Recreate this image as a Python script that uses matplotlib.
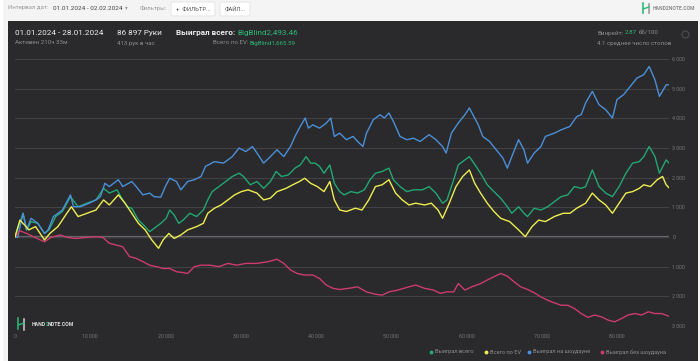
import matplotlib
matplotlib.use('Agg')
import matplotlib.pyplot as plt
from matplotlib.patches import Rectangle, FancyBboxPatch
from matplotlib.lines import Line2D

plt.rcParams['font.family'] = ['Roboto', 'DejaVu Sans']

# ---------------- data (hands, BB) ----------------
blue_x = [0, 360, 1070, 1540, 2140, 3030, 3920, 4400, 5110, 6300, 7370, 7780, 8680, 9860, 10760, 11350,
          11940, 12540, 13730, 14320, 15510, 16100, 16990, 17890, 18480, 19370, 19970, 20560, 21450,
          22040, 22940, 23830, 24720, 25310, 26500, 27690, 28880, 29770, 30660, 31550, 32150, 33040,
          33930, 34820, 35710, 36600, 37200, 37910, 38560, 38980, 39570, 40470, 41360, 41950, 42430,
          43140, 44030, 44920, 45520, 46230, 46700, 47600, 48490, 49080, 49680, 50270, 51160, 52050,
          52940, 53840, 55020, 55920, 56810, 57280, 57990, 58890, 59780, 60370, 60970, 61560, 62150,
          63050, 63940, 64830, 65420, 66010, 66910, 67620, 68100, 68990, 69880, 70470, 71660, 72550,
          73740, 74630, 75230, 75820, 76710, 77600, 78490, 79380, 79980, 80870, 81760, 82650, 83540,
          84260, 85030, 85620, 86520, 86897]
blue_y = [0, -10, 800, 240, 630, 460, 120, 240, 690, 910, 1420, 1020, 1020, 1140, 1250, 1360,
          1810, 1700, 1930, 1700, 1870, 1700, 1420, 1480, 1360, 1340, 1700, 1980, 1870,
          1590, 1870, 1930, 2040, 2380, 2540, 2490, 2710, 3000, 2880, 3050, 2830, 2490,
          2710, 2940, 2710, 3050, 3390, 3730, 4010, 3670, 3780, 3670, 3840, 4010, 3390,
          3500, 3280, 3390, 3220, 3050, 3500, 3950, 4120, 4010, 4180, 3900, 3390, 3280,
          3330, 3220, 3450, 3280, 3050, 2830, 3500, 3840, 4120, 4350, 4060, 3780, 3390,
          3220, 2940, 2660, 2320, 2710, 3280, 2940, 2490, 2830, 3050, 3390, 3500, 3610,
          3730, 4060, 4120, 4520, 4910, 4460, 4290, 4010, 4630, 4800, 5080, 5360, 5470,
          5750, 5300, 4740, 5130, 5130]

pink_x = [0, 650, 1540, 2440, 3920, 4810, 6000, 6890, 8080, 9570, 10760, 11650, 12540, 13430, 14320,
          15210, 16100, 16990, 17890, 18780, 19670, 20560, 21450, 22340, 22940, 23830, 24720, 25910,
          27100, 28280, 29470, 30660, 32150, 33630, 34820, 35710, 36600, 37490, 38390, 39570, 40470,
          41360, 42250, 43140, 44330, 45520, 46700, 47890, 48790, 49680, 50860, 52050, 53240, 54430,
          55620, 56510, 57400, 58290, 58890, 59780, 60670, 61860, 62750, 63640, 64530, 65420, 66310,
          67200, 68100, 68990, 69880, 70770, 71660, 72550, 73440, 74330, 75230, 76120, 77010, 77900,
          78790, 79680, 80570, 81460, 82360, 83250, 84140, 85030, 85920, 86897]
pink_y = [0, 210, 120, 10, -160, -10, 70, -10, -50, -10, 10, -10, -210, -270, -330,
          -660, -720, -830, -950, -1000, -1060, -1060, -1170, -1200, -1230, -1000, -950, -950,
          -1000, -890, -950, -890, -890, -830, -750, -890, -1110, -1230, -1280, -1280, -1400,
          -1620, -1730, -1770, -1730, -1680, -1850, -1930, -1960, -1850, -1790, -1700, -1620, -1730,
          -1790, -1900, -1850, -1850, -1570, -1790, -1680, -1570, -1450, -1340, -1230, -1320, -1510,
          -1680, -1770, -1880, -2020, -2130, -2220, -2300, -2300, -2410, -2580, -2710, -2630, -2690,
          -2800, -2860, -2750, -2630, -2580, -2630, -2520, -2580, -2580, -2670]

green_x = [0, 1070, 1540, 2140, 3030, 3920, 4520, 5410, 6300, 7370, 8380, 9570, 10760, 11770, 12540,
           13550, 14320, 14910, 15510, 16400, 17290, 17890, 18480, 19370, 20080, 20560, 21150, 21750,
           22340, 23230, 24130, 25020, 25610, 26200, 27100, 27990, 28880, 29770, 30360, 31260, 32150,
           33040, 33930, 34700, 35410, 36310, 37200, 37910, 38680, 39280, 39870, 40470, 41060, 41830,
           42430, 43140, 43730, 44630, 45520, 46410, 47180, 47890, 48790, 49680, 50270, 51160, 52050,
           52940, 54130, 55020, 55920, 56810, 57400, 58290, 58890, 59780, 60370, 60970, 61860, 62750,
           63640, 64530, 65420, 66010, 66910, 67620, 68100, 68990, 69880, 70770, 71660, 72550, 73440,
           74330, 75230, 75820, 76710, 77600, 78490, 79380, 80270, 81170, 82060, 82950, 83540, 84260,
           85030, 85620, 86520, 86897]
green_y = [0, 800, 240, 520, 460, 120, 240, 690, 860, 1360, 1020, 1140, 1250, 1640, 1480,
           1590, 1250, 1020, 970, 570, 350, 180, 290, 460, 630, 910, 740, 460,
           570, 800, 690, 910, 1250, 1530, 1700, 1870, 2040, 2150, 2040, 1760, 1870,
           1640, 1870, 2210, 2040, 2090, 2320, 2430, 2710, 2490, 2490, 2380, 2150, 2430,
           1810, 1530, 1420, 1530, 1480, 1590, 1930, 2150, 2210, 2320, 1930, 1700, 1530,
           1590, 1590, 1700, 1480, 1140, 1250, 1930, 2430, 2600, 2710, 2490, 2150, 1760,
           1530, 1310, 1020, 800, 1020, 800, 690, 970, 910, 1020, 1190, 1360, 1420,
           1700, 1640, 1700, 2260, 1700, 1480, 1360, 1700, 2150, 2490, 2540, 2710, 3050,
           2710, 2150, 2600, 2490]

yellow_x = [0, 650, 1250, 1840, 2730, 3920, 4630, 5700, 6890, 7490, 8380, 9570, 10760, 11770, 12540,
            13730, 14620, 15510, 16400, 17290, 18180, 19070, 19670, 20440, 21150, 22040, 22940, 24130,
            25020, 25610, 26500, 27390, 28280, 29180, 30070, 30960, 32150, 33040, 33930, 34820, 36010,
            36900, 37790, 38500, 39280, 40170, 41060, 41830, 42430, 43140, 44030, 45220, 46110, 47000,
            47890, 48790, 49680, 50570, 51460, 52350, 53240, 54430, 55320, 56210, 56810, 57700, 58590,
            59480, 60370, 61080, 61860, 62750, 63640, 64530, 65720, 66910, 67800, 68690, 69580, 70470,
            71660, 72850, 73740, 74630, 75820, 76710, 77600, 78490, 79380, 80270, 81170, 82060, 82950,
            83540, 84430, 85330, 86040, 86520, 86897]
yellow_y = [0, 570, 410, 240, 350, -100, 120, 350, 800, 1020, 690, 800, 910, 1250, 1080,
            1420, 1140, 800, 460, 240, -100, -380, -100, 120, -50, 70, 240, 350,
            460, 800, 970, 1080, 1250, 1420, 1530, 1590, 1480, 1250, 1310, 1530, 1640,
            1760, 1870, 1980, 1810, 1700, 1530, 1870, 1250, 910, 860, 970, 910, 1250,
            1700, 1760, 1930, 1480, 1250, 1080, 1140, 1080, 1140, 910, 630, 1140, 1700,
            2040, 2260, 1810, 1480, 1140, 860, 630, 520, 240, 10, 350, 570, 520,
            690, 800, 800, 970, 1140, 1480, 1250, 1080, 800, 1140, 1480, 1530, 1640,
            1760, 1700, 1930, 2040, 1760, 1660]

x_ticks = [0, 10000, 20000, 30000, 40000, 50000, 60000, 70000, 80000]
x_tick_labels = ['0', '10 000', '20 000', '30 000', '40 000', '50 000', '60 000', '70 000', '80 000']
y_ticks = [-3000, -2000, -1000, 0, 1000, 2000, 3000, 4000, 5000, 6000]
y_tick_labels = ['3 000', '2 000', '1 000', '0', '1 000', '2 000', '3 000', '4 000', '5 000', '6 000']

series_names = ['Выиграл всего', 'Всего по EV', 'Выиграл на шоудауне', 'Выиграл без шоудауна']
C_GREEN = '#22a872'
C_YELLOW = '#eeee50'
C_BLUE = '#4a90d8'
C_PINK = '#cc3c6c'
series_colors = [C_GREEN, C_YELLOW, C_BLUE, C_PINK]

# ---------------- figure ----------------
W, H = 700, 361
fig = plt.figure(figsize=(7, 3.61), dpi=100)
fig.patch.set_facecolor('#f4f4f4')
renderer = fig.canvas.get_renderer()

def fx(x):
    return x / W

def fy(y):
    return 1 - y / H

PANEL = '#2a292c'
fig.add_artist(Rectangle((fx(8), 0), fx(698) - fx(8), fy(21), transform=fig.transFigure,
                         facecolor=PANEL, edgecolor='none', zorder=0))
fig.add_artist(Rectangle((0, 0), fx(3), 1, transform=fig.transFigure,
                         facecolor='#ffffff', edgecolor='none', zorder=0))

ax = fig.add_axes([fx(15), fy(326), fx(669) - fx(15), fy(59) - fy(326)])
ax.set_facecolor('none')
ax.set_xlim(0, 86897)
ax.set_ylim(-3000, 6000)
for s in ax.spines.values():
    s.set_visible(False)
ax.set_xticks(x_ticks)
ax.set_xticklabels(x_tick_labels)
ax.set_yticks(y_ticks)
ax.set_yticklabels(y_tick_labels)
ax.yaxis.tick_right()
ax.tick_params(axis='both', length=0, labelsize=3.8, labelcolor='#77767a')
ax.tick_params(axis='x', pad=6)
ax.tick_params(axis='y', pad=2.5)
for lbl in ax.get_yticklabels():
    lbl.set_horizontalalignment('left')
ax.grid(axis='y', color='#424145', lw=0.8)
ax.grid(axis='x', visible=False)
ax.axhline(0, color='#68676b', lw=1.6, zorder=1)

ax.plot(green_x, green_y, color=C_GREEN, lw=1.0, zorder=3)
ax.plot(yellow_x, yellow_y, color=C_YELLOW, lw=1.0, zorder=4)
ax.plot(blue_x, blue_y, color=C_BLUE, lw=1.0, zorder=3)
ax.plot(pink_x, pink_y, color=C_PINK, lw=1.0, zorder=3)

# ---------------- texts ----------------
def t(x, y, s, size, color, weight='normal', ha='left', **kw):
    return fig.text(fx(x), fy(y), s, fontsize=size, color=color, fontweight=weight,
                    ha=ha, va='center', **kw)

def width_px(txt):
    return txt.get_window_extent(renderer=renderer).width

def chain(x, y, parts, size, gap=2.0, **kw):
    """parts: list of (string, color, weight); placed left to right."""
    for s, c, w in parts:
        tx = t(x, y, s, size, c, weight=w, **kw)
        x += width_px(tx) + gap
    return x

def chain_right(x, y, parts, size, gap=2.0):
    for s, c, w in reversed(parts):
        tx = t(x, y, s, size, c, weight=w, ha='right')
        x -= width_px(tx) + gap
    return x

WHITE = '#ececec'
GRAY = '#8c8b8f'
TGREEN = '#2dbb78'

# top bar
t(8, 8, 'Интервал дат:', 4.3, '#9a9a9a')
t(53, 8, '01.01.2024 - 02.02.2024', 4.6, '#444444')
t(125, 8, '▾', 4.0, '#9a9a9a')
t(140, 8, 'Фильтры:', 4.3, '#9a9a9a')
for (x0, x1, label) in [(171, 215, '+  ФИЛЬТР...'), (220, 250, 'ФАЙЛ...')]:
    fig.add_artist(FancyBboxPatch((fx(x0), fy(16)), fx(x1) - fx(x0), fy(2) - fy(16),
                                  boxstyle='round,pad=0,rounding_size=0.004',
                                  transform=fig.transFigure, facecolor='#ffffff',
                                  edgecolor='#e2e2e2', lw=0.6, zorder=1))
    t((x0 + x1) / 2, 9, label, 4.2, '#555555', ha='center', zorder=2)

# top right logo
fig.add_artist(Line2D([fx(643), fx(643)], [fy(3), fy(13)], color='#2dbb78', lw=1.2, transform=fig.transFigure))
fig.add_artist(Line2D([fx(649), fx(649)], [fy(4), fy(13)], color='#9a9a9a', lw=1.2, transform=fig.transFigure))
fig.add_artist(Line2D([fx(643), fx(649)], [fy(9), fy(7)], color='#2dbb78', lw=1.0, transform=fig.transFigure))
t(653, 8, 'HAND2NOTE.COM', 3.6, '#8a8a8a', weight='bold')

# panel header
t(15, 33, '01.01.2024 - 28.01.2024', 5.9, WHITE)
t(15, 43, 'Активен 210ч 33м', 4.4, GRAY)
t(117, 33, '86 897 Руки', 5.9, WHITE)
t(117, 43, '413 рук в час', 4.4, GRAY)
chain(176, 33, [('Выиграл всего:', WHITE, 'bold'), ('BigBlind2,493.46', TGREEN, 'normal')], 5.9, gap=2.5)
chain_right(296, 43, [('Всего по EV:', GRAY, 'normal'), ('BigBlind1,665.59', TGREEN, 'normal')], 4.4, gap=1.5)
chain(597, 33, [('Винрейт:', GRAY, 'normal'), ('2.87', TGREEN, 'normal'), ('бб/100', GRAY, 'normal')], 4.5, gap=1.6)
t(597, 43, '4.1 среднее число столов', 4.4, GRAY)
fig.add_artist(Line2D([fx(685)], [fy(34)], marker='o', ms=5, mfc='none', mec='#4a494d', mew=0.9,
                      transform=fig.transFigure))

# watermark bottom-left
fig.add_artist(Rectangle((fx(14), fy(331)), fx(82) - fx(14), fy(317) - fy(331), transform=fig.transFigure,
                         facecolor=PANEL, edgecolor='none', zorder=5))
fig.add_artist(Line2D([fx(18), fx(18)], [fy(318), fy(329)], color='#2dbb78', lw=1.1, transform=fig.transFigure, zorder=6))
fig.add_artist(Line2D([fx(24), fx(24)], [fy(319), fy(330)], color='#cfcfcf', lw=1.1, transform=fig.transFigure, zorder=6))
fig.add_artist(Line2D([fx(18), fx(24)], [fy(325), fy(323)], color='#2dbb78', lw=1.0, transform=fig.transFigure, zorder=6))
chain(32, 324, [('HAND', '#e0e0e0', 'bold'), ('2', TGREEN, 'bold'), ('NOTE.COM', '#e0e0e0', 'bold')],
      3.7, gap=-0.6, zorder=6)

# legend
legend_pos = [(431, 435), (486, 490), (529, 533), (602, 606)]
for (dx, tx), name, col in zip(legend_pos, series_names, series_colors):
    fig.add_artist(Line2D([fx(dx)], [fy(352)], marker='o', ms=1.8, color=col, mec=col,
                          transform=fig.transFigure))
    t(tx, 352, name, 4.1, GRAY)

fig.savefig('out.png', dpi=100, facecolor=fig.get_facecolor())
